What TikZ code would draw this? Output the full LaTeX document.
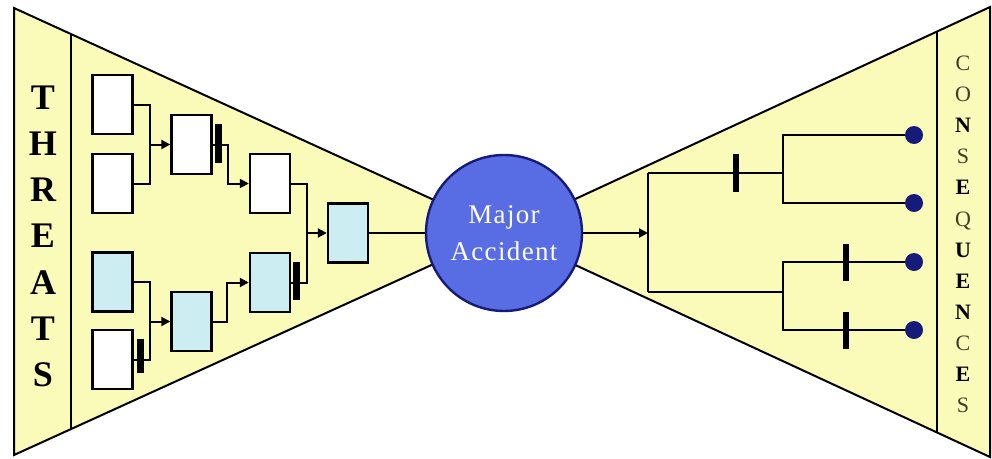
\documentclass[tikz,border=0pt]{standalone}
\usepackage{fontspec}
\setmainfont{Liberation Serif}
\usetikzlibrary{arrows.meta,calc}

\definecolor{bowfill}{RGB}{250,250,185}
\definecolor{boxblue}{RGB}{204,238,242}
\definecolor{eventblue}{RGB}{88,108,228}
\definecolor{navy}{RGB}{22,26,120}
\definecolor{lightletter}{RGB}{62,62,40}

\tikzset{
  box/.style={draw, line width=2.4pt, minimum width=40pt, minimum height=59pt, inner sep=0pt, fill=white},
  boxb/.style={box, fill=boxblue},
  barrier/.style={fill=black, inner sep=0pt, minimum width=7pt},
  wire/.style={line width=2pt},
  arr/.style={wire, -{Triangle[length=9pt,width=9pt]}},
  endpt/.style={circle, fill=navy, inner sep=0pt, minimum size=18pt},
  bowline/.style={line width=2pt, fill=bowfill},
  threat/.style={font=\fontsize{36}{36}\selectfont\bfseries, inner sep=0pt},
  cqb/.style={font=\fontsize{22}{22}\selectfont\bfseries, inner sep=0pt},
  cql/.style={font=\fontsize{22}{22}\selectfont, text=lightletter, inner sep=0pt},
}

\begin{document}
\begin{tikzpicture}[x=1pt, y=-1pt]
\useasboundingbox (0,0) rectangle (992,458);

% bow-tie outline
\coordinate (apex) at (504,232);
\coordinate (lt) at (14,8);
\coordinate (lb) at (14,455);
\coordinate (rt0) at (990,7);
\coordinate (rb0) at (990,457);
\draw[bowline] (lt) -- (apex) -- (lb) -- cycle;
\draw[bowline] (rt0) -- (apex) -- (rb0) -- cycle;
\draw[wire] ($(lt)!0.1163!(apex)$) -- ($(lb)!0.1163!(apex)$);
\draw[wire] ($(rt0)!0.109!(apex)$) -- ($(rb0)!0.109!(apex)$);

% side labels
\foreach \ch [count=\i from 0] in {T,H,R,E,A,T,S}
  \node[threat, anchor=base] (th\i) at (43,{109+46.3*\i}) {\ch};
\foreach \ch/\w [count=\i from 0] in {C/l,O/l,N/b,S/l,E/b,Q/l,U/b,E/b,N/b,C/l,E/b,S/l}
  \node[cq\w, anchor=base] (cq\i) at (963,{70.5+31.1*\i}) {\ch};

% threat boxes
\node[box]  (a1) at (112.5,104.5) {};
\node[box]  (a2) at (112.5,183.5) {};
\node[box]  (b1) at (191.5,144.5) {};
\node[box]  (c1) at (270,183.5) {};
\node[boxb] (d)  at (348,233) {};
\node[boxb] (e1) at (112.5,282) {};
\node[box]  (e2) at (112.5,359.5) {};
\node[boxb] (f)  at (191.5,321.5) {};
\node[boxb] (g)  at (270,282.5) {};

% top event
\node[circle, draw=navy, line width=2.4pt, fill=eventblue, minimum size=156pt, inner sep=0pt,
      text=white, align=center,
      font=\fontsize{27}{37}\selectfont\addfontfeature{LetterSpace=5}] (acc) at (504,233) {Major\\Accident};

% threat-side connectors
\coordinate (j1) at (150,144.5);
\draw[wire] (a1.east) -| (j1);
\draw[wire] (a2.east) -| (j1);
\draw[arr] (j1) -- (b1.west);
\coordinate (k1) at (228,183.5);
\draw[arr] (b1.east) -| (k1) -- (c1.west);
\coordinate (j3) at (150,321.5);
\draw[wire] (e1.east) -| (j3);
\draw[wire] (e2.east) -| (j3);
\draw[arr] (j3) -- (f.west);
\coordinate (k2) at (227,282.5);
\draw[arr] (f.east) -| (k2) -- (g.west);
\coordinate (j2) at (307,233);
\draw[wire] (c1.east) -| (j2);
\draw[wire] (g.east) -| (j2);
\draw[arr] (j2) -- (d.west);
\draw[wire] (d.east) -- (acc.west);

% consequence-side connectors
\node[endpt] (o1) at (914,135) {};
\node[endpt] (o2) at (914,203) {};
\node[endpt] (o3) at (914,262) {};
\node[endpt] (o4) at (914,330) {};
\coordinate (r0) at (648,233);
\coordinate (rt) at (648,173);
\coordinate (rb) at (648,292);
\coordinate (st) at (783,173);
\coordinate (sb) at (783,292);
\draw[arr] (acc.east) -- (r0);
\draw[wire] (rt) -- (rb);
\draw[wire] (rt) -- (st);
\draw[wire] (rb) -- (sb);
\draw[wire] (o1.west) -| (st);
\draw[wire] (o2.west) -| (st);
\draw[wire] (o3.west) -| (sb);
\draw[wire] (o4.west) -| (sb);

% barriers
\node[barrier, minimum height=39pt] (bar1) at (218.5,143.5) {};
\node[barrier, minimum height=34pt] (bar2) at (140.5,356) {};
\node[barrier, minimum height=38pt] (bar3) at (296.5,281) {};
\node[barrier, minimum width=6pt, minimum height=38pt] (bar4) at (736,173) {};
\node[barrier, minimum width=6pt, minimum height=37pt] (bar5) at (846,262) {};
\node[barrier, minimum width=6pt, minimum height=37pt] (bar6) at (846,330) {};
\end{tikzpicture}
\end{document}
